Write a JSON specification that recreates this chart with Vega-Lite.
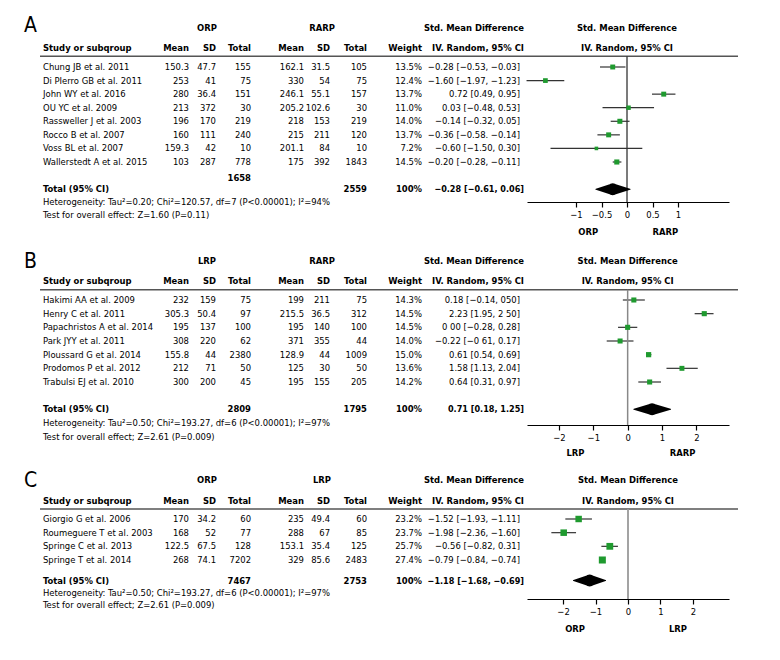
{
"$schema":"https://vega.github.io/schema/vega-lite/v6.json",
"padding":0,
"background":"white",
"bounds":"flush",
"columns":2,
"spacing":{"row":30,"column":0},
"config":{
 "view":{"stroke":null},
 "text":{"font":"DejaVu Sans Condensed","fontSize":9.4,"baseline":"middle","color":"#000"},
 "axis":{"labelFont":"DejaVu Sans Condensed","labelFontSize":9.4,"labelColor":"#000","domainColor":"#000","domainWidth":1.2,"tickColor":"#000","tickWidth":1.2,"tickSize":5,"labelPadding":3,"grid":false,"labelFlush":false,"labelOverlap":false}
},
"datasets":{
 "cols":[{"key":"m1","c":3},{"key":"sd1","c":5},{"key":"n1","c":6},{"key":"m2","c":7},{"key":"sd2","c":9},{"key":"n2","c":10},{"key":"ci","c":12}],
 "colhdr":[{"t":"Mean","c":3},{"t":"SD","c":5},{"t":"Total","c":6},{"t":"Mean","c":7},{"t":"SD","c":9},{"t":"Total","c":10},{"t":"Weight","c":11},{"t":"IV. Random, 95% CI","c":13}],
 "A":[
  {"study":"Chung JB et al. 2011","i":0,"m1":150.3,"sd1":47.7,"n1":155,"m2":162.1,"sd2":31.5,"n2":105,"w":0.135,"ci":"−0.28 [−0.53, −0.03]","smd":-0.28,"lo":-0.53,"hi":-0.03},
  {"study":"Di PIerro GB et al. 2011","i":1,"m1":253,"sd1":41,"n1":75,"m2":330,"sd2":54,"n2":75,"w":0.124,"ci":"−1.60 [−1.97, −1.23]","smd":-1.6,"lo":-1.97,"hi":-1.23},
  {"study":"John WY et al. 2016","i":2,"m1":280,"sd1":36.4,"n1":151,"m2":246.1,"sd2":55.1,"n2":157,"w":0.137,"ci":"0.72 [0.49, 0.95]","smd":0.72,"lo":0.49,"hi":0.95},
  {"study":"OU YC et al. 2009","i":3,"m1":213,"sd1":372,"n1":30,"m2":205.2,"sd2":102.6,"n2":30,"w":0.11,"ci":"0.03 [−0.48, 0.53]","smd":0.03,"lo":-0.48,"hi":0.53},
  {"study":"Rassweller J et al. 2003","i":4,"m1":196,"sd1":170,"n1":219,"m2":218,"sd2":153,"n2":219,"w":0.14,"ci":"−0.14 [−0.32, 0.05]","smd":-0.14,"lo":-0.32,"hi":0.05},
  {"study":"Rocco B et al. 2007","i":5,"m1":160,"sd1":111,"n1":240,"m2":215,"sd2":211,"n2":120,"w":0.137,"ci":"−0.36 [−0.58. −0.14]","smd":-0.36,"lo":-0.58,"hi":-0.14},
  {"study":"Voss BL et al. 2007","i":6,"m1":159.3,"sd1":42,"n1":10,"m2":201.1,"sd2":84,"n2":10,"w":0.072,"ci":"−0.60 [−1.50, 0.30]","smd":-0.6,"lo":-1.5,"hi":0.3},
  {"study":"Wallerstedt A et al. 2015","i":7,"m1":103,"sd1":287,"n1":778,"m2":175,"sd2":392,"n2":1843,"w":0.145,"ci":"−0.20 [−0.28, −0.11]","smd":-0.2,"lo":-0.28,"hi":-0.11}
 ],
 "At":[{"n1":1658,"n2":2559,"w":1,"ci":"−0.28 [−0.61, 0.06]","lo":-0.61,"est":-0.28,"hi":0.06,"het":"Heterogeneity: Tau²=0.20; Chi²=120.57, df=7 (P<0.00001); I²=94%","test":"Test for overall effect: Z=1.60 (P=0.11)"}],
 "B":[
  {"study":"Hakimi AA et al. 2009","i":0,"m1":232,"sd1":159,"n1":75,"m2":199,"sd2":211,"n2":75,"w":0.143,"ci":"0.18 [−0.14, 050]","smd":0.18,"lo":-0.14,"hi":0.5},
  {"study":"Henry C et al. 2011","i":1,"m1":305.3,"sd1":50.4,"n1":97,"m2":215.5,"sd2":36.5,"n2":312,"w":0.145,"ci":"2.23 [1.95, 2 50]","smd":2.23,"lo":1.95,"hi":2.5},
  {"study":"Papachristos A et al. 2014","i":2,"m1":195,"sd1":137,"n1":100,"m2":195,"sd2":140,"n2":100,"w":0.145,"ci":"0 00 [−0.28, 0.28]","smd":0,"lo":-0.28,"hi":0.28},
  {"study":"Park JYY et al. 2011","i":3,"m1":308,"sd1":220,"n1":62,"m2":371,"sd2":355,"n2":44,"w":0.14,"ci":"−0.22 [−0 61, 0.17]","smd":-0.22,"lo":-0.61,"hi":0.17},
  {"study":"Ploussard G et al. 2014","i":4,"m1":155.8,"sd1":44,"n1":2380,"m2":128.9,"sd2":44,"n2":1009,"w":0.15,"ci":"0.61 [0.54, 0.69]","smd":0.61,"lo":0.54,"hi":0.69},
  {"study":"Prodomos P et al. 2012","i":5,"m1":212,"sd1":71,"n1":50,"m2":125,"sd2":30,"n2":50,"w":0.136,"ci":"1.58 [1.13, 2.04]","smd":1.58,"lo":1.13,"hi":2.04},
  {"study":"Trabulsi EJ et al. 2010","i":6,"m1":300,"sd1":200,"n1":45,"m2":195,"sd2":155,"n2":205,"w":0.142,"ci":"0.64 [0.31, 0.97]","smd":0.64,"lo":0.31,"hi":0.97}
 ],
 "Bt":[{"n1":2809,"n2":1795,"w":1,"ci":"0.71 [0.18, 1.25]","lo":0.18,"est":0.71,"hi":1.25,"het":"Heterogeneity: Tau²=0.50; Chi²=193.27, df=6 (P<0.00001); I²=97%","test":"Test for overall effect; Z=2.61 (P=0.009)"}],
 "C":[
  {"study":"Giorgio G et al. 2006","i":0,"m1":170,"sd1":34.2,"n1":60,"m2":235,"sd2":49.4,"n2":60,"w":0.232,"ci":"−1.52 [−1.93, −1.11]","smd":-1.52,"lo":-1.93,"hi":-1.11},
  {"study":"Roumeguere T et al. 2003","i":1,"m1":168,"sd1":52,"n1":77,"m2":288,"sd2":67,"n2":85,"w":0.237,"ci":"−1.98 [−2.36, −1.60]","smd":-1.98,"lo":-2.36,"hi":-1.6},
  {"study":"Springe C et al. 2013","i":2,"m1":122.5,"sd1":67.5,"n1":128,"m2":153.1,"sd2":35.4,"n2":125,"w":0.257,"ci":"−0.56 [−0.82, 0.31]","smd":-0.56,"lo":-0.82,"hi":-0.31},
  {"study":"Springe T et al. 2014","i":3,"m1":268,"sd1":74.1,"n1":7202,"m2":329,"sd2":85.6,"n2":2483,"w":0.274,"ci":"−0.79 [−0.84, −0.74]","smd":-0.79,"lo":-0.84,"hi":-0.74}
 ],
 "Ct":[{"n1":7467,"n2":2753,"w":1,"ci":"−1.18 [−1.68, −0.69]","lo":-1.68,"est":-1.18,"hi":-0.69,"het":"Heterogeneity: Tau²=0.50; Chi²=193.27, df=6 (P<0.00001); I²=97%","test":"Test for overall effect; Z=2.61 (P=0.009)"}]
},
"concat":[
 {"width":527,"height":202,"layer":[
  {"data":{"values":[{"p":"A"}]},"mark":{"type":"text","align":"left","fontSize":21},"encoding":{"x":{"datum":0,"type":"quantitative","scale":{"domain":[0,1,2,3,4,5,6,7,8,9,10,11,12,13,14],"range":[24,40,43,189,207,216,251,304,322,330,367,422,520,524,738],"nice":false,"zero":false},"axis":null},"y":{"datum":-3.0,"type":"quantitative","scale":{"domain":[0,7],"range":[67,162],"nice":false,"zero":false},"axis":null},"text":{"field":"p"}}},
  {"data":{"values":[{"t":"ORP","c":4},{"t":"RARP","c":8}]},"mark":{"type":"text","align":"center","fontWeight":"bold"},"encoding":{"x":{"field":"c","type":"quantitative","scale":{"domain":[0,1,2,3,4,5,6,7,8,9,10,11,12,13,14],"range":[24,40,43,189,207,216,251,304,322,330,367,422,520,524,738],"nice":false,"zero":false},"axis":null},"y":{"datum":-2.85,"type":"quantitative","scale":{"domain":[0,7],"range":[67,162],"nice":false,"zero":false},"axis":null},"text":{"field":"t"}}},
  {"data":{"values":[{"t":"Std. Mean Difference"}]},"mark":{"type":"text","align":"right","fontWeight":"bold"},"encoding":{"x":{"datum":13,"type":"quantitative","scale":{"domain":[0,1,2,3,4,5,6,7,8,9,10,11,12,13,14],"range":[24,40,43,189,207,216,251,304,322,330,367,422,520,524,738],"nice":false,"zero":false},"axis":null},"y":{"datum":-2.85,"type":"quantitative","scale":{"domain":[0,7],"range":[67,162],"nice":false,"zero":false},"axis":null},"text":{"field":"t"}}},
  {"data":{"name":"colhdr"},"mark":{"type":"text","align":"right","fontWeight":"bold"},"encoding":{"x":{"field":"c","type":"quantitative","scale":{"domain":[0,1,2,3,4,5,6,7,8,9,10,11,12,13,14],"range":[24,40,43,189,207,216,251,304,322,330,367,422,520,524,738],"nice":false,"zero":false},"axis":null},"y":{"datum":-1.4,"type":"quantitative","scale":{"domain":[0,7],"range":[67,162],"nice":false,"zero":false},"axis":null},"text":{"field":"t"}}},
  {"data":{"values":[{"t":"Study or subqroup"}]},"mark":{"type":"text","align":"left","fontWeight":"bold"},"encoding":{"x":{"datum":2,"type":"quantitative","scale":{"domain":[0,1,2,3,4,5,6,7,8,9,10,11,12,13,14],"range":[24,40,43,189,207,216,251,304,322,330,367,422,520,524,738],"nice":false,"zero":false},"axis":null},"y":{"datum":-1.4,"type":"quantitative","scale":{"domain":[0,7],"range":[67,162],"nice":false,"zero":false},"axis":null},"text":{"field":"t"}}},
  {"data":{"values":[{}]},"mark":{"type":"rule","stroke":"#555","strokeWidth":1.5},"encoding":{"x":{"datum":1,"type":"quantitative","scale":{"domain":[0,1,2,3,4,5,6,7,8,9,10,11,12,13,14],"range":[24,40,43,189,207,216,251,304,322,330,367,422,520,524,738],"nice":false,"zero":false},"axis":null},"x2":{"datum":14},"y":{"datum":-0.8,"type":"quantitative","scale":{"domain":[0,7],"range":[67,162],"nice":false,"zero":false},"axis":null}}},
  {"data":{"name":"A"},"mark":{"type":"text","align":"left"},"encoding":{"x":{"datum":2,"type":"quantitative","scale":{"domain":[0,1,2,3,4,5,6,7,8,9,10,11,12,13,14],"range":[24,40,43,189,207,216,251,304,322,330,367,422,520,524,738],"nice":false,"zero":false},"axis":null},"y":{"field":"i","type":"quantitative","scale":{"domain":[0,7],"range":[67,162],"nice":false,"zero":false},"axis":null},"text":{"field":"study"}}},
  {"data":{"name":"A"},"transform":[{"fold":["m1","sd1","n1","m2","sd2","n2","ci"],"as":["key","val"]},{"lookup":"key","from":{"data":{"name":"cols"},"key":"key","fields":["c"]}}],"mark":{"type":"text","align":"right"},"encoding":{"x":{"field":"c","type":"quantitative","scale":{"domain":[0,1,2,3,4,5,6,7,8,9,10,11,12,13,14],"range":[24,40,43,189,207,216,251,304,322,330,367,422,520,524,738],"nice":false,"zero":false},"axis":null},"y":{"field":"i","type":"quantitative","scale":{"domain":[0,7],"range":[67,162],"nice":false,"zero":false},"axis":null},"text":{"field":"val","type":"nominal"}}},
  {"data":{"name":"A"},"mark":{"type":"text","align":"right"},"encoding":{"x":{"datum":11,"type":"quantitative","scale":{"domain":[0,1,2,3,4,5,6,7,8,9,10,11,12,13,14],"range":[24,40,43,189,207,216,251,304,322,330,367,422,520,524,738],"nice":false,"zero":false},"axis":null},"y":{"field":"i","type":"quantitative","scale":{"domain":[0,7],"range":[67,162],"nice":false,"zero":false},"axis":null},"text":{"field":"w","type":"quantitative","format":".1%"}}},
  {"data":{"name":"At"},"mark":{"type":"text","align":"left","fontWeight":"bold"},"encoding":{"x":{"datum":2,"type":"quantitative","scale":{"domain":[0,1,2,3,4,5,6,7,8,9,10,11,12,13,14],"range":[24,40,43,189,207,216,251,304,322,330,367,422,520,524,738],"nice":false,"zero":false},"axis":null},"y":{"datum":9,"type":"quantitative","scale":{"domain":[0,7],"range":[67,162],"nice":false,"zero":false},"axis":null},"text":{"value":"Total (95% CI)"}}},
  {"data":{"name":"At"},"mark":{"type":"text","align":"right","fontWeight":"bold"},"encoding":{"x":{"datum":6,"type":"quantitative","scale":{"domain":[0,1,2,3,4,5,6,7,8,9,10,11,12,13,14],"range":[24,40,43,189,207,216,251,304,322,330,367,422,520,524,738],"nice":false,"zero":false},"axis":null},"y":{"datum":8.2,"type":"quantitative","scale":{"domain":[0,7],"range":[67,162],"nice":false,"zero":false},"axis":null},"text":{"field":"n1","type":"nominal"}}},
  {"data":{"name":"At"},"mark":{"type":"text","align":"right","fontWeight":"bold"},"encoding":{"x":{"datum":10,"type":"quantitative","scale":{"domain":[0,1,2,3,4,5,6,7,8,9,10,11,12,13,14],"range":[24,40,43,189,207,216,251,304,322,330,367,422,520,524,738],"nice":false,"zero":false},"axis":null},"y":{"datum":9,"type":"quantitative","scale":{"domain":[0,7],"range":[67,162],"nice":false,"zero":false},"axis":null},"text":{"field":"n2","type":"nominal"}}},
  {"data":{"name":"At"},"mark":{"type":"text","align":"right","fontWeight":"bold"},"encoding":{"x":{"datum":11,"type":"quantitative","scale":{"domain":[0,1,2,3,4,5,6,7,8,9,10,11,12,13,14],"range":[24,40,43,189,207,216,251,304,322,330,367,422,520,524,738],"nice":false,"zero":false},"axis":null},"y":{"datum":9,"type":"quantitative","scale":{"domain":[0,7],"range":[67,162],"nice":false,"zero":false},"axis":null},"text":{"field":"w","type":"quantitative","format":".0%"}}},
  {"data":{"name":"At"},"mark":{"type":"text","align":"right","fontWeight":"bold","fontSize":9},"encoding":{"x":{"datum":13,"type":"quantitative","scale":{"domain":[0,1,2,3,4,5,6,7,8,9,10,11,12,13,14],"range":[24,40,43,189,207,216,251,304,322,330,367,422,520,524,738],"nice":false,"zero":false},"axis":null},"y":{"datum":9,"type":"quantitative","scale":{"domain":[0,7],"range":[67,162],"nice":false,"zero":false},"axis":null},"text":{"field":"ci","type":"nominal"}}},
  {"data":{"name":"At"},"mark":{"type":"text","align":"left"},"encoding":{"x":{"datum":2,"type":"quantitative","scale":{"domain":[0,1,2,3,4,5,6,7,8,9,10,11,12,13,14],"range":[24,40,43,189,207,216,251,304,322,330,367,422,520,524,738],"nice":false,"zero":false},"axis":null},"y":{"datum":9.97,"type":"quantitative","scale":{"domain":[0,7],"range":[67,162],"nice":false,"zero":false},"axis":null},"text":{"field":"het","type":"nominal"}}},
  {"data":{"name":"At"},"mark":{"type":"text","align":"left"},"encoding":{"x":{"datum":2,"type":"quantitative","scale":{"domain":[0,1,2,3,4,5,6,7,8,9,10,11,12,13,14],"range":[24,40,43,189,207,216,251,304,322,330,367,422,520,524,738],"nice":false,"zero":false},"axis":null},"y":{"datum":10.93,"type":"quantitative","scale":{"domain":[0,7],"range":[67,162],"nice":false,"zero":false},"axis":null},"text":{"field":"test","type":"nominal"}}}
 ]},
 {"width":202,"height":202,"layer":[
  {"data":{"name":"A"},"mark":{"type":"rule","stroke":"#333","strokeWidth":1.2},"encoding":{"x":{"field":"lo","type":"quantitative","scale":{"domain":[-1.961,2.0],"nice":false,"zero":false},"axis":{"values":[-1,-0.5,0,0.5,1],"format":"~g","title":null}},"x2":{"field":"hi"},"y":{"field":"i","type":"quantitative","scale":{"domain":[0,7],"range":[67,162],"nice":false,"zero":false},"axis":null}}},
  {"data":{"values":[{}]},"mark":{"type":"rule","stroke":"#333","strokeWidth":1.3},"encoding":{"x":{"datum":0,"type":"quantitative"},"y":{"datum":-0.8,"type":"quantitative"},"y2":{"datum":9.95}}},
  {"data":{"name":"A"},"mark":{"type":"point","shape":"square","filled":true,"color":"#1f9a2f","opacity":1},"encoding":{"x":{"field":"smd","type":"quantitative"},"y":{"field":"i","type":"quantitative"},"size":{"field":"w","type":"quantitative","scale":{"domain":[0,0.3],"range":[0,54]},"legend":null}}},
  {"data":{"name":"At"},"transform":[{"fold":["lo","est","hi"],"as":["key","v"]}],"mark":{"type":"trail","color":"#000"},"encoding":{"x":{"field":"v","type":"quantitative"},"y":{"datum":9,"type":"quantitative"},"order":{"field":"v","type":"quantitative"},"size":{"condition":{"test":"datum.key == 'est'","value":12},"value":0}}},
  {"data":{"values":[{"t":"Std. Mean Difference"}]},"mark":{"type":"text","align":"center","fontWeight":"bold"},"encoding":{"x":{"datum":0,"type":"quantitative"},"y":{"datum":-2.85,"type":"quantitative"},"text":{"field":"t"}}},
  {"data":{"values":[{"t":"IV. Random, 95% CI"}]},"mark":{"type":"text","align":"center","fontWeight":"bold"},"encoding":{"x":{"datum":0,"type":"quantitative"},"y":{"datum":-1.4,"type":"quantitative"},"text":{"field":"t"}}},
  {"data":{"values":[{"t":"ORP"}]},"mark":{"type":"text","align":"center","fontWeight":"bold"},"encoding":{"x":{"datum":-0.76,"type":"quantitative"},"y":{"datum":12.15,"type":"quantitative"},"text":{"field":"t"}}},
  {"data":{"values":[{"t":"RARP"}]},"mark":{"type":"text","align":"center","fontWeight":"bold"},"encoding":{"x":{"datum":0.75,"type":"quantitative"},"y":{"datum":12.15,"type":"quantitative"},"text":{"field":"t"}}}
 ]},
 {"width":527,"height":193,"layer":[
  {"data":{"values":[{"p":"B"}]},"mark":{"type":"text","align":"left","fontSize":21},"encoding":{"x":{"datum":0,"type":"quantitative","scale":{"domain":[0,1,2,3,4,5,6,7,8,9,10,11,12,13,14],"range":[24,40,43,189,207,216,251,304,322,330,367,422,520,524,738],"nice":false,"zero":false},"axis":null},"y":{"datum":-2.8,"type":"quantitative","scale":{"domain":[0,6],"range":[68,150],"nice":false,"zero":false},"axis":null},"text":{"field":"p"}}},
  {"data":{"values":[{"t":"LRP","c":4},{"t":"RARP","c":8}]},"mark":{"type":"text","align":"center","fontWeight":"bold"},"encoding":{"x":{"field":"c","type":"quantitative","scale":{"domain":[0,1,2,3,4,5,6,7,8,9,10,11,12,13,14],"range":[24,40,43,189,207,216,251,304,322,330,367,422,520,524,738],"nice":false,"zero":false},"axis":null},"y":{"datum":-2.82,"type":"quantitative","scale":{"domain":[0,6],"range":[68,150],"nice":false,"zero":false},"axis":null},"text":{"field":"t"}}},
  {"data":{"values":[{"t":"Std. Mean Difference"}]},"mark":{"type":"text","align":"right","fontWeight":"bold"},"encoding":{"x":{"datum":13,"type":"quantitative","scale":{"domain":[0,1,2,3,4,5,6,7,8,9,10,11,12,13,14],"range":[24,40,43,189,207,216,251,304,322,330,367,422,520,524,738],"nice":false,"zero":false},"axis":null},"y":{"datum":-2.82,"type":"quantitative","scale":{"domain":[0,6],"range":[68,150],"nice":false,"zero":false},"axis":null},"text":{"field":"t"}}},
  {"data":{"name":"colhdr"},"mark":{"type":"text","align":"right","fontWeight":"bold"},"encoding":{"x":{"field":"c","type":"quantitative","scale":{"domain":[0,1,2,3,4,5,6,7,8,9,10,11,12,13,14],"range":[24,40,43,189,207,216,251,304,322,330,367,422,520,524,738],"nice":false,"zero":false},"axis":null},"y":{"datum":-1.36,"type":"quantitative","scale":{"domain":[0,6],"range":[68,150],"nice":false,"zero":false},"axis":null},"text":{"field":"t"}}},
  {"data":{"values":[{"t":"Study or subqroup"}]},"mark":{"type":"text","align":"left","fontWeight":"bold"},"encoding":{"x":{"datum":2,"type":"quantitative","scale":{"domain":[0,1,2,3,4,5,6,7,8,9,10,11,12,13,14],"range":[24,40,43,189,207,216,251,304,322,330,367,422,520,524,738],"nice":false,"zero":false},"axis":null},"y":{"datum":-1.36,"type":"quantitative","scale":{"domain":[0,6],"range":[68,150],"nice":false,"zero":false},"axis":null},"text":{"field":"t"}}},
  {"data":{"values":[{}]},"mark":{"type":"rule","stroke":"#555","strokeWidth":1.5},"encoding":{"x":{"datum":1,"type":"quantitative","scale":{"domain":[0,1,2,3,4,5,6,7,8,9,10,11,12,13,14],"range":[24,40,43,189,207,216,251,304,322,330,367,422,520,524,738],"nice":false,"zero":false},"axis":null},"x2":{"datum":14},"y":{"datum":-0.75,"type":"quantitative","scale":{"domain":[0,6],"range":[68,150],"nice":false,"zero":false},"axis":null}}},
  {"data":{"name":"B"},"mark":{"type":"text","align":"left"},"encoding":{"x":{"datum":2,"type":"quantitative","scale":{"domain":[0,1,2,3,4,5,6,7,8,9,10,11,12,13,14],"range":[24,40,43,189,207,216,251,304,322,330,367,422,520,524,738],"nice":false,"zero":false},"axis":null},"y":{"field":"i","type":"quantitative","scale":{"domain":[0,6],"range":[68,150],"nice":false,"zero":false},"axis":null},"text":{"field":"study"}}},
  {"data":{"name":"B"},"transform":[{"fold":["m1","sd1","n1","m2","sd2","n2","ci"],"as":["key","val"]},{"lookup":"key","from":{"data":{"name":"cols"},"key":"key","fields":["c"]}}],"mark":{"type":"text","align":"right"},"encoding":{"x":{"field":"c","type":"quantitative","scale":{"domain":[0,1,2,3,4,5,6,7,8,9,10,11,12,13,14],"range":[24,40,43,189,207,216,251,304,322,330,367,422,520,524,738],"nice":false,"zero":false},"axis":null},"y":{"field":"i","type":"quantitative","scale":{"domain":[0,6],"range":[68,150],"nice":false,"zero":false},"axis":null},"text":{"field":"val","type":"nominal"}}},
  {"data":{"name":"B"},"mark":{"type":"text","align":"right"},"encoding":{"x":{"datum":11,"type":"quantitative","scale":{"domain":[0,1,2,3,4,5,6,7,8,9,10,11,12,13,14],"range":[24,40,43,189,207,216,251,304,322,330,367,422,520,524,738],"nice":false,"zero":false},"axis":null},"y":{"field":"i","type":"quantitative","scale":{"domain":[0,6],"range":[68,150],"nice":false,"zero":false},"axis":null},"text":{"field":"w","type":"quantitative","format":".1%"}}},
  {"data":{"name":"Bt"},"mark":{"type":"text","align":"left","fontWeight":"bold"},"encoding":{"x":{"datum":2,"type":"quantitative","scale":{"domain":[0,1,2,3,4,5,6,7,8,9,10,11,12,13,14],"range":[24,40,43,189,207,216,251,304,322,330,367,422,520,524,738],"nice":false,"zero":false},"axis":null},"y":{"datum":8,"type":"quantitative","scale":{"domain":[0,6],"range":[68,150],"nice":false,"zero":false},"axis":null},"text":{"value":"Total (95% CI)"}}},
  {"data":{"name":"Bt"},"mark":{"type":"text","align":"right","fontWeight":"bold"},"encoding":{"x":{"datum":6,"type":"quantitative","scale":{"domain":[0,1,2,3,4,5,6,7,8,9,10,11,12,13,14],"range":[24,40,43,189,207,216,251,304,322,330,367,422,520,524,738],"nice":false,"zero":false},"axis":null},"y":{"datum":8,"type":"quantitative","scale":{"domain":[0,6],"range":[68,150],"nice":false,"zero":false},"axis":null},"text":{"field":"n1","type":"nominal"}}},
  {"data":{"name":"Bt"},"mark":{"type":"text","align":"right","fontWeight":"bold"},"encoding":{"x":{"datum":10,"type":"quantitative","scale":{"domain":[0,1,2,3,4,5,6,7,8,9,10,11,12,13,14],"range":[24,40,43,189,207,216,251,304,322,330,367,422,520,524,738],"nice":false,"zero":false},"axis":null},"y":{"datum":8,"type":"quantitative","scale":{"domain":[0,6],"range":[68,150],"nice":false,"zero":false},"axis":null},"text":{"field":"n2","type":"nominal"}}},
  {"data":{"name":"Bt"},"mark":{"type":"text","align":"right","fontWeight":"bold"},"encoding":{"x":{"datum":11,"type":"quantitative","scale":{"domain":[0,1,2,3,4,5,6,7,8,9,10,11,12,13,14],"range":[24,40,43,189,207,216,251,304,322,330,367,422,520,524,738],"nice":false,"zero":false},"axis":null},"y":{"datum":8,"type":"quantitative","scale":{"domain":[0,6],"range":[68,150],"nice":false,"zero":false},"axis":null},"text":{"field":"w","type":"quantitative","format":".0%"}}},
  {"data":{"name":"Bt"},"mark":{"type":"text","align":"right","fontWeight":"bold","fontSize":9},"encoding":{"x":{"datum":13,"type":"quantitative","scale":{"domain":[0,1,2,3,4,5,6,7,8,9,10,11,12,13,14],"range":[24,40,43,189,207,216,251,304,322,330,367,422,520,524,738],"nice":false,"zero":false},"axis":null},"y":{"datum":8,"type":"quantitative","scale":{"domain":[0,6],"range":[68,150],"nice":false,"zero":false},"axis":null},"text":{"field":"ci","type":"nominal"}}},
  {"data":{"name":"Bt"},"mark":{"type":"text","align":"left"},"encoding":{"x":{"datum":2,"type":"quantitative","scale":{"domain":[0,1,2,3,4,5,6,7,8,9,10,11,12,13,14],"range":[24,40,43,189,207,216,251,304,322,330,367,422,520,524,738],"nice":false,"zero":false},"axis":null},"y":{"datum":9,"type":"quantitative","scale":{"domain":[0,6],"range":[68,150],"nice":false,"zero":false},"axis":null},"text":{"field":"het","type":"nominal"}}},
  {"data":{"name":"Bt"},"mark":{"type":"text","align":"left"},"encoding":{"x":{"datum":2,"type":"quantitative","scale":{"domain":[0,1,2,3,4,5,6,7,8,9,10,11,12,13,14],"range":[24,40,43,189,207,216,251,304,322,330,367,422,520,524,738],"nice":false,"zero":false},"axis":null},"y":{"datum":10,"type":"quantitative","scale":{"domain":[0,6],"range":[68,150],"nice":false,"zero":false},"axis":null},"text":{"field":"test","type":"nominal"}}}
 ]},
 {"width":202,"height":193,"layer":[
  {"data":{"name":"B"},"mark":{"type":"rule","stroke":"#333","strokeWidth":1.2},"encoding":{"x":{"field":"lo","type":"quantitative","scale":{"domain":[-2.93,2.95],"nice":false,"zero":false},"axis":{"values":[-2,-1,0,1,2],"format":"~g","title":null}},"x2":{"field":"hi"},"y":{"field":"i","type":"quantitative","scale":{"domain":[0,6],"range":[68,150],"nice":false,"zero":false},"axis":null}}},
  {"data":{"values":[{}]},"mark":{"type":"rule","stroke":"#888","strokeWidth":1.5},"encoding":{"x":{"datum":0,"type":"quantitative"},"y":{"datum":-0.75,"type":"quantitative"},"y2":{"datum":9.146}}},
  {"data":{"name":"B"},"mark":{"type":"point","shape":"square","filled":true,"color":"#1f9a2f","opacity":1},"encoding":{"x":{"field":"smd","type":"quantitative"},"y":{"field":"i","type":"quantitative"},"size":{"field":"w","type":"quantitative","scale":{"domain":[0,0.3],"range":[0,54]},"legend":null}}},
  {"data":{"name":"Bt"},"transform":[{"fold":["lo","est","hi"],"as":["key","v"]}],"mark":{"type":"trail","color":"#000"},"encoding":{"x":{"field":"v","type":"quantitative"},"y":{"datum":8,"type":"quantitative"},"order":{"field":"v","type":"quantitative"},"size":{"condition":{"test":"datum.key == 'est'","value":12},"value":0}}},
  {"data":{"values":[{"t":"Std. Mean Difference"}]},"mark":{"type":"text","align":"center","fontWeight":"bold"},"encoding":{"x":{"datum":0,"type":"quantitative"},"y":{"datum":-2.82,"type":"quantitative"},"text":{"field":"t"}}},
  {"data":{"values":[{"t":"IV. Random, 95% CI"}]},"mark":{"type":"text","align":"center","fontWeight":"bold"},"encoding":{"x":{"datum":0,"type":"quantitative"},"y":{"datum":-1.36,"type":"quantitative"},"text":{"field":"t"}}},
  {"data":{"values":[{"t":"LRP"}]},"mark":{"type":"text","align":"center","fontWeight":"bold"},"encoding":{"x":{"datum":-1.52,"type":"quantitative"},"y":{"datum":11.19,"type":"quantitative"},"text":{"field":"t"}}},
  {"data":{"values":[{"t":"RARP"}]},"mark":{"type":"text","align":"center","fontWeight":"bold"},"encoding":{"x":{"datum":1.6,"type":"quantitative"},"y":{"datum":11.19,"type":"quantitative"},"text":{"field":"t"}}}
 ]},
 {"width":527,"height":144,"layer":[
  {"data":{"values":[{"p":"C"}]},"mark":{"type":"text","align":"left","fontSize":21},"encoding":{"x":{"datum":0,"type":"quantitative","scale":{"domain":[0,1,2,3,4,5,6,7,8,9,10,11,12,13,14],"range":[24,40,43,189,207,216,251,304,322,330,367,422,520,524,738],"nice":false,"zero":false},"axis":null},"y":{"datum":-2.75,"type":"quantitative","scale":{"domain":[0,3],"range":[64,105],"nice":false,"zero":false},"axis":null},"text":{"field":"p"}}},
  {"data":{"values":[{"t":"ORP","c":4},{"t":"LRP","c":8}]},"mark":{"type":"text","align":"center","fontWeight":"bold"},"encoding":{"x":{"field":"c","type":"quantitative","scale":{"domain":[0,1,2,3,4,5,6,7,8,9,10,11,12,13,14],"range":[24,40,43,189,207,216,251,304,322,330,367,422,520,524,738],"nice":false,"zero":false},"axis":null},"y":{"datum":-2.85,"type":"quantitative","scale":{"domain":[0,3],"range":[64,105],"nice":false,"zero":false},"axis":null},"text":{"field":"t"}}},
  {"data":{"values":[{"t":"Std. Mean Difference"}]},"mark":{"type":"text","align":"right","fontWeight":"bold"},"encoding":{"x":{"datum":13,"type":"quantitative","scale":{"domain":[0,1,2,3,4,5,6,7,8,9,10,11,12,13,14],"range":[24,40,43,189,207,216,251,304,322,330,367,422,520,524,738],"nice":false,"zero":false},"axis":null},"y":{"datum":-2.85,"type":"quantitative","scale":{"domain":[0,3],"range":[64,105],"nice":false,"zero":false},"axis":null},"text":{"field":"t"}}},
  {"data":{"name":"colhdr"},"mark":{"type":"text","align":"right","fontWeight":"bold"},"encoding":{"x":{"field":"c","type":"quantitative","scale":{"domain":[0,1,2,3,4,5,6,7,8,9,10,11,12,13,14],"range":[24,40,43,189,207,216,251,304,322,330,367,422,520,524,738],"nice":false,"zero":false},"axis":null},"y":{"datum":-1.32,"type":"quantitative","scale":{"domain":[0,3],"range":[64,105],"nice":false,"zero":false},"axis":null},"text":{"field":"t"}}},
  {"data":{"values":[{"t":"Study or subqroup"}]},"mark":{"type":"text","align":"left","fontWeight":"bold"},"encoding":{"x":{"datum":2,"type":"quantitative","scale":{"domain":[0,1,2,3,4,5,6,7,8,9,10,11,12,13,14],"range":[24,40,43,189,207,216,251,304,322,330,367,422,520,524,738],"nice":false,"zero":false},"axis":null},"y":{"datum":-1.32,"type":"quantitative","scale":{"domain":[0,3],"range":[64,105],"nice":false,"zero":false},"axis":null},"text":{"field":"t"}}},
  {"data":{"values":[{}]},"mark":{"type":"rule","stroke":"#555","strokeWidth":1.5},"encoding":{"x":{"datum":1,"type":"quantitative","scale":{"domain":[0,1,2,3,4,5,6,7,8,9,10,11,12,13,14],"range":[24,40,43,189,207,216,251,304,322,330,367,422,520,524,738],"nice":false,"zero":false},"axis":null},"x2":{"datum":14},"y":{"datum":-0.73,"type":"quantitative","scale":{"domain":[0,3],"range":[64,105],"nice":false,"zero":false},"axis":null}}},
  {"data":{"name":"C"},"mark":{"type":"text","align":"left"},"encoding":{"x":{"datum":2,"type":"quantitative","scale":{"domain":[0,1,2,3,4,5,6,7,8,9,10,11,12,13,14],"range":[24,40,43,189,207,216,251,304,322,330,367,422,520,524,738],"nice":false,"zero":false},"axis":null},"y":{"field":"i","type":"quantitative","scale":{"domain":[0,3],"range":[64,105],"nice":false,"zero":false},"axis":null},"text":{"field":"study"}}},
  {"data":{"name":"C"},"transform":[{"fold":["m1","sd1","n1","m2","sd2","n2","ci"],"as":["key","val"]},{"lookup":"key","from":{"data":{"name":"cols"},"key":"key","fields":["c"]}}],"mark":{"type":"text","align":"right"},"encoding":{"x":{"field":"c","type":"quantitative","scale":{"domain":[0,1,2,3,4,5,6,7,8,9,10,11,12,13,14],"range":[24,40,43,189,207,216,251,304,322,330,367,422,520,524,738],"nice":false,"zero":false},"axis":null},"y":{"field":"i","type":"quantitative","scale":{"domain":[0,3],"range":[64,105],"nice":false,"zero":false},"axis":null},"text":{"field":"val","type":"nominal"}}},
  {"data":{"name":"C"},"mark":{"type":"text","align":"right"},"encoding":{"x":{"datum":11,"type":"quantitative","scale":{"domain":[0,1,2,3,4,5,6,7,8,9,10,11,12,13,14],"range":[24,40,43,189,207,216,251,304,322,330,367,422,520,524,738],"nice":false,"zero":false},"axis":null},"y":{"field":"i","type":"quantitative","scale":{"domain":[0,3],"range":[64,105],"nice":false,"zero":false},"axis":null},"text":{"field":"w","type":"quantitative","format":".1%"}}},
  {"data":{"name":"Ct"},"mark":{"type":"text","align":"left","fontWeight":"bold"},"encoding":{"x":{"datum":2,"type":"quantitative","scale":{"domain":[0,1,2,3,4,5,6,7,8,9,10,11,12,13,14],"range":[24,40,43,189,207,216,251,304,322,330,367,422,520,524,738],"nice":false,"zero":false},"axis":null},"y":{"datum":4.5,"type":"quantitative","scale":{"domain":[0,3],"range":[64,105],"nice":false,"zero":false},"axis":null},"text":{"value":"Total (95% CI)"}}},
  {"data":{"name":"Ct"},"mark":{"type":"text","align":"right","fontWeight":"bold"},"encoding":{"x":{"datum":6,"type":"quantitative","scale":{"domain":[0,1,2,3,4,5,6,7,8,9,10,11,12,13,14],"range":[24,40,43,189,207,216,251,304,322,330,367,422,520,524,738],"nice":false,"zero":false},"axis":null},"y":{"datum":4.5,"type":"quantitative","scale":{"domain":[0,3],"range":[64,105],"nice":false,"zero":false},"axis":null},"text":{"field":"n1","type":"nominal"}}},
  {"data":{"name":"Ct"},"mark":{"type":"text","align":"right","fontWeight":"bold"},"encoding":{"x":{"datum":10,"type":"quantitative","scale":{"domain":[0,1,2,3,4,5,6,7,8,9,10,11,12,13,14],"range":[24,40,43,189,207,216,251,304,322,330,367,422,520,524,738],"nice":false,"zero":false},"axis":null},"y":{"datum":4.5,"type":"quantitative","scale":{"domain":[0,3],"range":[64,105],"nice":false,"zero":false},"axis":null},"text":{"field":"n2","type":"nominal"}}},
  {"data":{"name":"Ct"},"mark":{"type":"text","align":"right","fontWeight":"bold"},"encoding":{"x":{"datum":11,"type":"quantitative","scale":{"domain":[0,1,2,3,4,5,6,7,8,9,10,11,12,13,14],"range":[24,40,43,189,207,216,251,304,322,330,367,422,520,524,738],"nice":false,"zero":false},"axis":null},"y":{"datum":4.5,"type":"quantitative","scale":{"domain":[0,3],"range":[64,105],"nice":false,"zero":false},"axis":null},"text":{"field":"w","type":"quantitative","format":".0%"}}},
  {"data":{"name":"Ct"},"mark":{"type":"text","align":"right","fontWeight":"bold","fontSize":9},"encoding":{"x":{"datum":13,"type":"quantitative","scale":{"domain":[0,1,2,3,4,5,6,7,8,9,10,11,12,13,14],"range":[24,40,43,189,207,216,251,304,322,330,367,422,520,524,738],"nice":false,"zero":false},"axis":null},"y":{"datum":4.5,"type":"quantitative","scale":{"domain":[0,3],"range":[64,105],"nice":false,"zero":false},"axis":null},"text":{"field":"ci","type":"nominal"}}},
  {"data":{"name":"Ct"},"mark":{"type":"text","align":"left"},"encoding":{"x":{"datum":2,"type":"quantitative","scale":{"domain":[0,1,2,3,4,5,6,7,8,9,10,11,12,13,14],"range":[24,40,43,189,207,216,251,304,322,330,367,422,520,524,738],"nice":false,"zero":false},"axis":null},"y":{"datum":5.4,"type":"quantitative","scale":{"domain":[0,3],"range":[64,105],"nice":false,"zero":false},"axis":null},"text":{"field":"het","type":"nominal"}}},
  {"data":{"name":"Ct"},"mark":{"type":"text","align":"left"},"encoding":{"x":{"datum":2,"type":"quantitative","scale":{"domain":[0,1,2,3,4,5,6,7,8,9,10,11,12,13,14],"range":[24,40,43,189,207,216,251,304,322,330,367,422,520,524,738],"nice":false,"zero":false},"axis":null},"y":{"datum":6.3,"type":"quantitative","scale":{"domain":[0,3],"range":[64,105],"nice":false,"zero":false},"axis":null},"text":{"field":"test","type":"nominal"}}}
 ]},
 {"width":202,"height":144,"layer":[
  {"data":{"name":"C"},"mark":{"type":"rule","stroke":"#333","strokeWidth":1.2},"encoding":{"x":{"field":"lo","type":"quantitative","scale":{"domain":[-3.11,3.11],"nice":false,"zero":false},"axis":{"values":[-2,-1,0,1,2],"format":"~g","title":null}},"x2":{"field":"hi"},"y":{"field":"i","type":"quantitative","scale":{"domain":[0,3],"range":[64,105],"nice":false,"zero":false},"axis":null}}},
  {"data":{"values":[{}]},"mark":{"type":"rule","stroke":"#999","strokeWidth":1.8},"encoding":{"x":{"datum":0,"type":"quantitative"},"y":{"datum":-0.73,"type":"quantitative"},"y2":{"datum":5.854}}},
  {"data":{"name":"C"},"mark":{"type":"point","shape":"square","filled":true,"color":"#1f9a2f","opacity":1},"encoding":{"x":{"field":"smd","type":"quantitative"},"y":{"field":"i","type":"quantitative"},"size":{"field":"w","type":"quantitative","scale":{"domain":[0,0.3],"range":[0,54]},"legend":null}}},
  {"data":{"name":"Ct"},"transform":[{"fold":["lo","est","hi"],"as":["key","v"]}],"mark":{"type":"trail","color":"#000"},"encoding":{"x":{"field":"v","type":"quantitative"},"y":{"datum":4.5,"type":"quantitative"},"order":{"field":"v","type":"quantitative"},"size":{"condition":{"test":"datum.key == 'est'","value":12},"value":0}}},
  {"data":{"values":[{"t":"Std. Mean Difference"}]},"mark":{"type":"text","align":"center","fontWeight":"bold"},"encoding":{"x":{"datum":0,"type":"quantitative"},"y":{"datum":-2.85,"type":"quantitative"},"text":{"field":"t"}}},
  {"data":{"values":[{"t":"IV. Random, 95% CI"}]},"mark":{"type":"text","align":"center","fontWeight":"bold"},"encoding":{"x":{"datum":0,"type":"quantitative"},"y":{"datum":-1.32,"type":"quantitative"},"text":{"field":"t"}}},
  {"data":{"values":[{"t":"ORP"}]},"mark":{"type":"text","align":"center","fontWeight":"bold"},"encoding":{"x":{"datum":-1.63,"type":"quantitative"},"y":{"datum":8.05,"type":"quantitative"},"text":{"field":"t"}}},
  {"data":{"values":[{"t":"LRP"}]},"mark":{"type":"text","align":"center","fontWeight":"bold"},"encoding":{"x":{"datum":1.54,"type":"quantitative"},"y":{"datum":8.05,"type":"quantitative"},"text":{"field":"t"}}}
 ]}
]
}
